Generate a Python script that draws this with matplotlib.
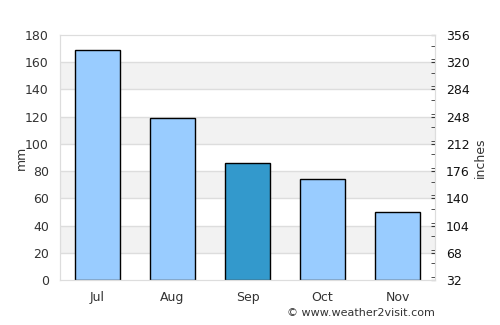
import matplotlib
matplotlib.use("Agg")
import matplotlib.pyplot as plt
from matplotlib.ticker import MultipleLocator

months = ["Jul", "Aug", "Sep", "Oct", "Nov"]
rain_mm = [169, 119, 86, 74, 50]
colors = ["#99ccff", "#99ccff", "#3399cc", "#99ccff", "#99ccff"]
left_ticks = [0, 20, 40, 60, 80, 100, 120, 140, 160, 180]
right_ticks = [32, 68, 104, 140, 176, 212, 248, 284, 320, 356]

txt = "#333333"
fig = plt.figure(figsize=(5, 3.25), dpi=100)
ax = fig.add_axes([0.12, 0.1385, 0.75, 0.7538])

for i in range(0, len(left_ticks) - 1):
    if i % 2 == 1:
        ax.axhspan(left_ticks[i], left_ticks[i + 1], color="#f2f2f2", zorder=0, lw=0)
for t in left_ticks[1:-1]:
    ax.axhline(t, color="#dddddd", lw=1, zorder=0.5)

x = range(len(months))
ax.bar(x, rain_mm, width=0.6, color=colors, edgecolor="black", linewidth=1, zorder=2)
ax.set_xlim(-0.5, len(months) - 0.5)
ax.set_ylim(0, 180)
ax.set_yticks(left_ticks)
ax.set_xticks(list(x))
ax.set_xticklabels(months)
ax.tick_params(axis="x", length=0, labelsize=9, colors=txt, pad=8)
ax.tick_params(axis="y", length=0, labelsize=9, colors=txt, pad=8)
ax.set_ylabel("mm", fontsize=9, color=txt, labelpad=-2)
for s in ax.spines.values():
    s.set_color("#dddddd")

ax2 = ax.twinx()
ax2.set_ylim(32, 356)
ax2.set_yticks(right_ticks)
ax2.yaxis.set_minor_locator(MultipleLocator(18))
ax2.tick_params(axis="y", which="both", direction="in", length=3, color="#333333",
                labelsize=9, labelcolor="#111111", pad=8)
ax2.set_ylabel("inches", fontsize=9, color=txt, labelpad=3)
for s in ax2.spines.values():
    s.set_color("#dddddd")

fig.text(0.87, 0.022, "© www.weather2visit.com", ha="right", va="bottom", fontsize=8, color=txt)
fig.savefig("out.png", dpi=100)
